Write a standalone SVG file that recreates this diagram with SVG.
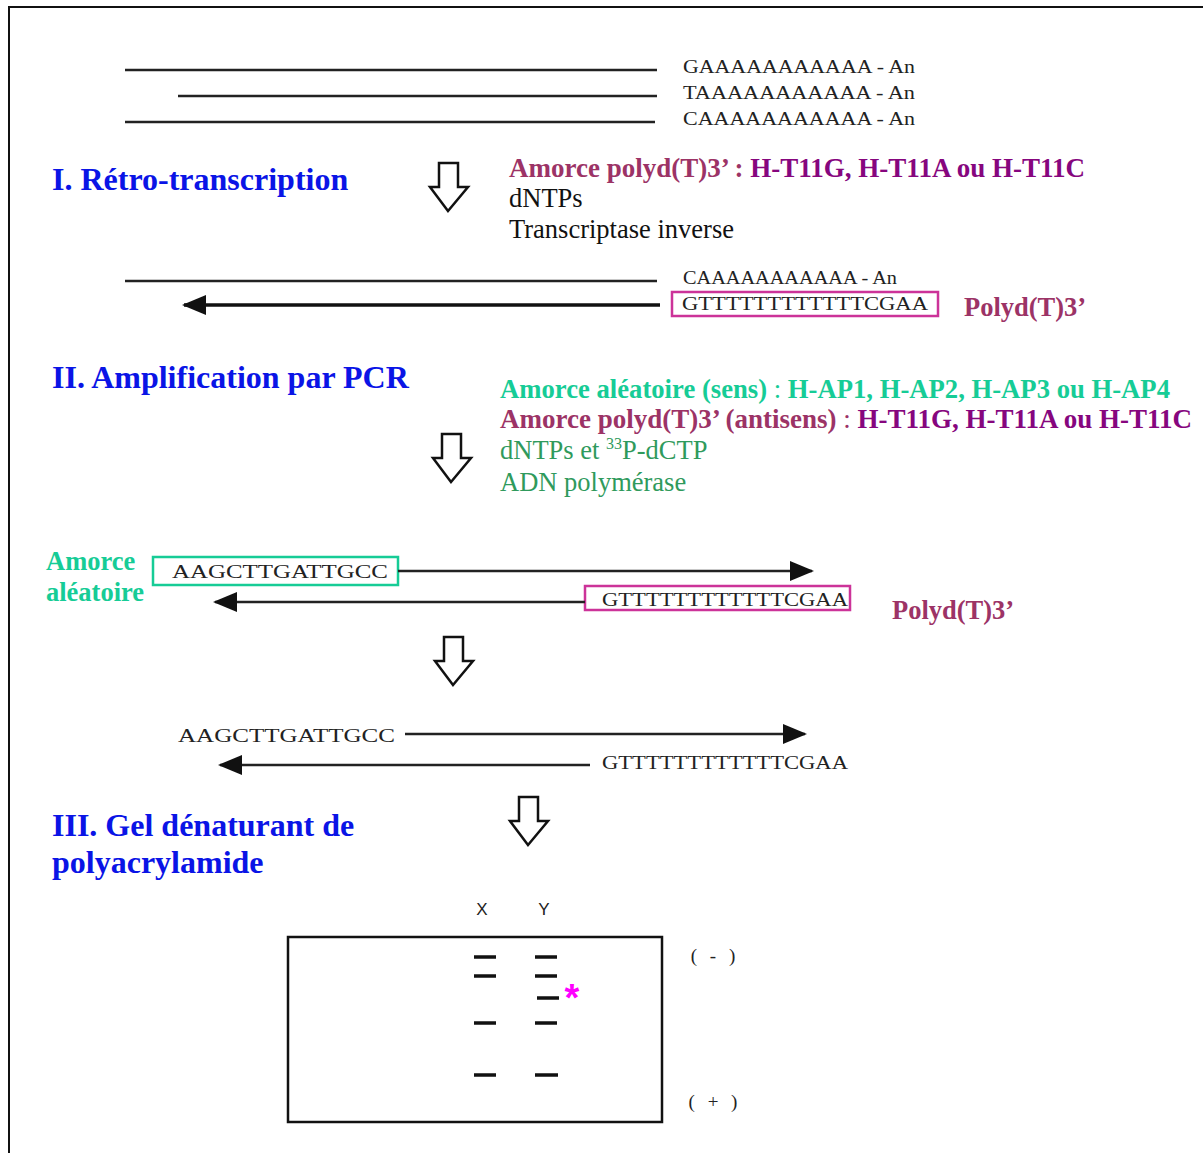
<svg xmlns="http://www.w3.org/2000/svg" width="1203" height="1153" viewBox="0 0 1203 1153">
<defs>
<marker id="ah" markerWidth="24" markerHeight="20" refX="22" refY="10" orient="auto" markerUnits="userSpaceOnUse">
<path d="M0,0 L24,10 L0,20 Z" fill="#111"/>
</marker>
<path id="darrow" d="M-9,0 H10 V24 H20 L0,48 L-18,24 H-9 Z" fill="#fff" stroke="#111" stroke-width="2.5" stroke-linejoin="miter"/>
</defs>
<style>
.seq{font-family:"Liberation Serif","DejaVu Serif",serif;font-size:19px;fill:#222}
.title{font-family:"Liberation Serif","DejaVu Serif",serif;font-size:32px;font-weight:bold;fill:#0a14e6}
.lab{font-family:"Liberation Serif","DejaVu Serif",serif;font-size:26.5px}
.b{font-weight:bold}
.mar{fill:#9c3366}
.pur{fill:#86067e}
.teal{fill:#16cc96}
.grn{fill:#2f9a5c}
.strand{stroke:#222;stroke-width:2.5;fill:none}
.thick{stroke:#111;stroke-width:3.5;fill:none}
.band{stroke:#111;stroke-width:3.5}
.small{font-family:"Liberation Sans","DejaVu Sans",sans-serif;font-size:17px;fill:#222}
.pole{font-family:"Liberation Serif","DejaVu Serif",serif;font-size:19px;fill:#222}
</style>
<rect width="1203" height="1153" fill="#fff"/>
<path d="M9,1153 V7 H1203" fill="none" stroke="#111" stroke-width="2"/>

<g id="mrna">
<line class="strand" x1="125" y1="70" x2="657" y2="70"/>
<line class="strand" x1="178" y1="96" x2="657" y2="96"/>
<line class="strand" x1="125" y1="122" x2="655" y2="122"/>
<text class="seq" x="683" y="73" textLength="232" lengthAdjust="spacingAndGlyphs">GAAAAAAAAAAA - An</text>
<text class="seq" x="683" y="99" textLength="232" lengthAdjust="spacingAndGlyphs">TAAAAAAAAAAA - An</text>
<text class="seq" x="683" y="125" textLength="232" lengthAdjust="spacingAndGlyphs">CAAAAAAAAAAA - An</text>
</g>

<g id="title1"><text class="title" x="52" y="190">I. Rétro-transcription</text></g>
<g id="arrow1"><use href="#darrow" x="448" y="163"/></g>
<g id="rt-reagents">
<text class="lab b" x="509" y="177" textLength="576" lengthAdjust="spacingAndGlyphs"><tspan class="mar">Amorce polyd(T)3’ : </tspan><tspan class="pur">H-T11G, H-T11A ou H-T11C</tspan></text>
<text class="lab" x="509" y="207" fill="#111">dNTPs</text>
<text class="lab" x="509" y="238" fill="#111">Transcriptase inverse</text>
</g>

<g id="rt-product">
<line class="strand" x1="125" y1="281" x2="657" y2="281"/>
<text class="seq" x="683" y="284" textLength="214" lengthAdjust="spacingAndGlyphs">CAAAAAAAAAAA - An</text>
<rect x="672" y="292" width="266" height="24" fill="none" stroke="#cc3399" stroke-width="2.5"/>
<text class="seq" x="682" y="310" textLength="246" lengthAdjust="spacingAndGlyphs">GTTTTTTTTTTTTCGAA</text>
<text class="lab b mar" x="964" y="316">Polyd(T)3’</text>
</g>

<g id="title2"><text class="title" x="52" y="388">II. Amplification par PCR</text></g>
<g id="pcr-reagents">
<text class="lab" x="500" y="398" textLength="670" lengthAdjust="spacingAndGlyphs"><tspan class="teal b">Amorce aléatoire (sens)</tspan><tspan class="teal"> : </tspan><tspan class="teal b">H-AP1, H-AP2, H-AP3 ou H-AP4</tspan></text>
<text class="lab" x="500" y="428" textLength="692" lengthAdjust="spacingAndGlyphs"><tspan class="mar b">Amorce polyd(T)3’ (antisens)</tspan><tspan class="mar"> : </tspan><tspan class="pur b">H-T11G, H-T11A ou H-T11C</tspan></text>
<text class="lab grn" x="500" y="459">dNTPs et <tspan font-size="16" dy="-10">33</tspan><tspan dy="10">P-dCTP</tspan></text>
<text class="lab grn" x="500" y="491">ADN polymérase</text>
</g>
<g id="arrow2"><use href="#darrow" x="451" y="434"/></g>

<g id="pcr-annealing">
<text class="lab b teal" x="46" y="570">Amorce</text>
<text class="lab b teal" x="46" y="601">aléatoire</text>
<rect x="153" y="557" width="245" height="28" fill="none" stroke="#16cc96" stroke-width="2.5"/>
<text class="seq" x="172" y="578" textLength="216" lengthAdjust="spacingAndGlyphs">AAGCTTGATTGCC</text>
<rect x="585" y="586" width="265" height="24" fill="none" stroke="#cc3399" stroke-width="2.5"/>
<text class="seq" x="602" y="606" textLength="246" lengthAdjust="spacingAndGlyphs">GTTTTTTTTTTTTCGAA</text>
<text class="lab b mar" x="892" y="619">Polyd(T)3’</text>
</g>
<g id="arrow3"><use href="#darrow" x="453" y="637"/></g>

<g id="pcr-product">
<text class="seq" x="178" y="742" textLength="217" lengthAdjust="spacingAndGlyphs">AAGCTTGATTGCC</text>
<text class="seq" x="602" y="769" textLength="246" lengthAdjust="spacingAndGlyphs">GTTTTTTTTTTTTCGAA</text>
</g>

<g id="title3">
<text class="title" x="52" y="836">III. Gel dénaturant de</text>
<text class="title" x="52" y="873">polyacrylamide</text>
</g>
<g id="arrow4"><use href="#darrow" x="528" y="797"/></g>

<g id="gel">
<text class="small" x="482" y="915" text-anchor="middle">X</text>
<text class="small" x="544" y="915" text-anchor="middle">Y</text>
<rect x="288" y="937" width="374" height="185" fill="none" stroke="#111" stroke-width="2.5"/>
<line class="band" x1="474" y1="957" x2="496" y2="957"/>
<line class="band" x1="474" y1="976" x2="496" y2="976"/>
<line class="band" x1="474" y1="1023" x2="496" y2="1023"/>
<line class="band" x1="474" y1="1075" x2="496" y2="1075"/>
<line class="band" x1="535" y1="957" x2="557" y2="957"/>
<line class="band" x1="535" y1="976" x2="557" y2="976"/>
<line class="band" x1="537" y1="998" x2="559" y2="998"/>
<line class="band" x1="535" y1="1023" x2="557" y2="1023"/>
<line class="band" x1="535" y1="1075" x2="558" y2="1075"/>
<text x="572" y="1011" font-family="Liberation Sans, DejaVu Sans, sans-serif" font-size="38" font-weight="bold" fill="#ff00ff" text-anchor="middle">*</text>
<text class="pole" x="715" y="962" text-anchor="middle" letter-spacing="4">( - )</text>
<text class="pole" x="715" y="1108" text-anchor="middle" letter-spacing="4">( + )</text>
</g>

<g id="connectors">
<line class="thick" x1="660" y1="305" x2="184" y2="305" marker-end="url(#ah)"/>
<line class="strand" x1="398" y1="571" x2="812" y2="571" marker-end="url(#ah)"/>
<line class="strand" x1="585" y1="602" x2="215" y2="602" marker-end="url(#ah)"/>
<line class="strand" x1="405" y1="734" x2="805" y2="734" marker-end="url(#ah)"/>
<line class="strand" x1="590" y1="765" x2="220" y2="765" marker-end="url(#ah)"/>
</g>
</svg>
